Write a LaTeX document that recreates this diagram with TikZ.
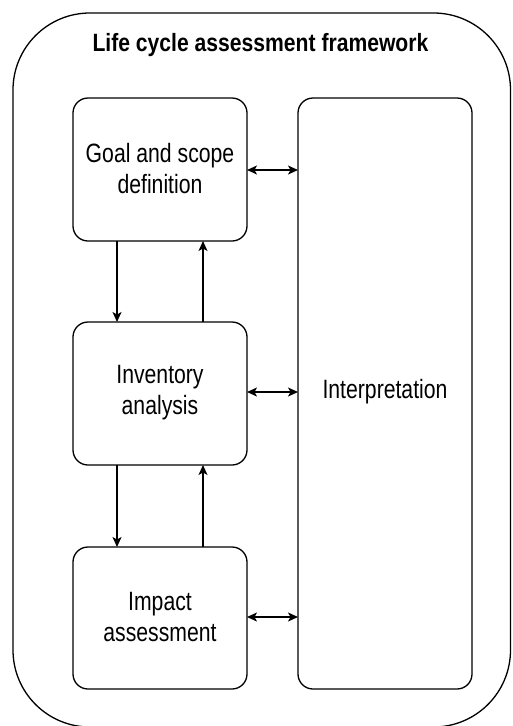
\documentclass[tikz,border=0pt]{standalone}
\usepackage{fontspec}
\setmainfont{Liberation Sans}[FakeStretch=0.8]
\newfontfamily\ttlfont{Liberation Sans}[FakeStretch=0.845]
\usetikzlibrary{arrows.meta}
\begin{document}
\begin{tikzpicture}[x=1pt,y=-1pt,
  box/.style={draw=black,line width=1.3pt,rounded corners=15pt,fill=white},
  lbl/.style={align=center,font=\fontsize{26.5}{31}\selectfont},
  conn/.style={line width=1.3pt,-{Stealth[length=10pt,width=9pt,inset=2.5pt]}},
  dconn/.style={line width=1.3pt,{Stealth[length=10pt,width=9pt,inset=2.5pt]}-{Stealth[length=10pt,width=9pt,inset=2.5pt]}}]
\useasboundingbox (0,0) rectangle (512,726);
\draw[line width=1.3pt,rounded corners=77pt] (13,13) rectangle (510.5,727);
\node[font=\ttlfont\bfseries\fontsize{25}{30}\selectfont] (title) at (260.5,45) {Life cycle assessment framework};
\draw[box] (73,98) rectangle (247,241);
\node[lbl] (goal) at (160,168.5) {Goal and scope\\definition};
\draw[box] (73,322) rectangle (247,465);
\node[lbl] (inv) at (160,392.5) {Inventory\\analysis};
\draw[box] (73,547) rectangle (247,689);
\node[lbl] (imp) at (160,617) {Impact\\assessment};
\draw[box] (298,98) rectangle (472,689);
\node[lbl] (interp) at (385,391.5) {Interpretation};
\coordinate (g1) at (117,241); \coordinate (i1) at (117,322);
\coordinate (g2) at (203,241); \coordinate (i2) at (203,322);
\coordinate (i3) at (117,465); \coordinate (m1) at (117,547);
\coordinate (i4) at (203,465); \coordinate (m2) at (203,547);
\draw[conn] (g1) -- (i1);
\draw[conn] (i2) -- (g2);
\draw[conn] (i3) -- (m1);
\draw[conn] (m2) -- (i4);
\coordinate (ga) at (247,170); \coordinate (gb) at (298,170);
\coordinate (ia) at (247,392); \coordinate (ib) at (298,392);
\coordinate (ma) at (247,617); \coordinate (mb) at (298,617);
\draw[dconn] (ga) -- (gb);
\draw[dconn] (ia) -- (ib);
\draw[dconn] (ma) -- (mb);
\end{tikzpicture}
\end{document}
